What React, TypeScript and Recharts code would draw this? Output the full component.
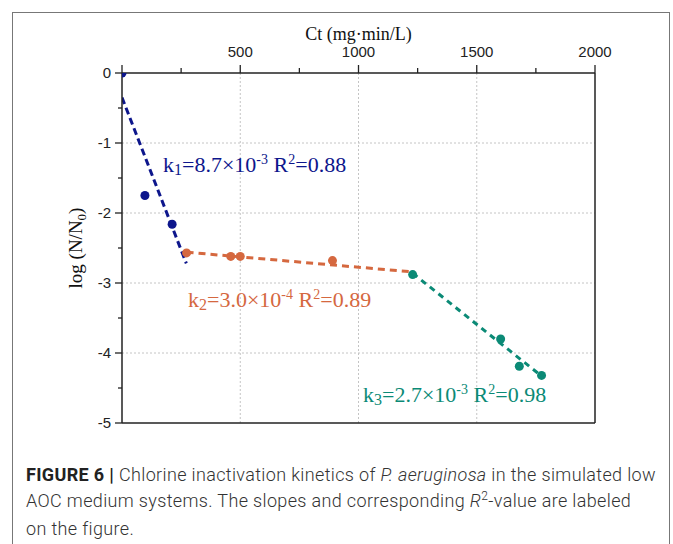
import {
  ComposedChart,
  Line,
  Scatter,
  XAxis,
  YAxis,
  ReferenceLine,
} from "recharts";

// Ct (mg·min/L) and log(N/N0)
const stage1Ct = [0, 97, 212];
const stage1Log = [0, -1.75, -2.16];
const stage2Ct = [273, 460, 500, 890];
const stage2Log = [-2.57, -2.62, -2.62, -2.68];
const stage3Ct = [1229, 1601, 1680, 1774];
const stage3Log = [-2.88, -3.8, -4.19, -4.32];

// fitted lines (end points)
const fit1Ct = [0, 272];
const fit1Log = [-0.35, -2.72];
const fit2Ct = [273, 1222];
const fit2Log = [-2.56, -2.84];
const fit3Ct = [1229, 1774];
const fit3Log = [-2.86, -4.33];

const xTicks = [0, 250, 500, 750, 1000, 1250, 1500, 1750, 2000];
const yTicks = [0, -0.5, -1, -1.5, -2, -2.5, -3, -3.5, -4, -4.5, -5];
const xGrid = [500, 1000, 1500];
const yGrid = [-1, -2, -3, -4];

const BLUE = "#0d168c";
const ORANGE = "#d5683f";
const TEAL = "#0b8a76";

const toPts = (xs: number[], ys: number[]) => xs.map((x, i) => ({ x, y: ys[i] }));

const tickFont = { fontFamily: "'Liberation Sans', Arial, sans-serif", fontSize: 15, fill: "#222" };
const serif = "'Liberation Serif', 'Times New Roman', serif";

const XTick = (props: any) => {
  const { x, y, payload } = props;
  const v = payload.value;
  const major = v % 500 === 0;
  return (
    <g>
      <line x1={x} x2={x} y1={y} y2={y - (major ? 8 : 5)} stroke="#222" strokeWidth={1.3} />
      {major && v !== 0 && (
        <text x={x} y={y - 16} textAnchor="middle" {...tickFont}>
          {v}
        </text>
      )}
    </g>
  );
};

const YTick = (props: any) => {
  const { x, y, payload } = props;
  const v = payload.value;
  const major = Number.isInteger(v);
  return (
    <g>
      <line x1={x} x2={x - (major ? 7 : 4)} y1={y} y2={y} stroke="#222" strokeWidth={1.3} />
      {major && (
        <text x={x - 11} y={y + 5} textAnchor="end" {...tickFont}>
          {v}
        </text>
      )}
    </g>
  );
};

const XTitle = (props: any) => {
  const vb = props.viewBox;
  return (
    <text x={vb.x + vb.width / 2} y={40} textAnchor="middle" fontFamily={serif} fontSize={18} fill="#111">
      Ct (mg·min/L)
    </text>
  );
};

const YTitle = (props: any) => {
  const vb = props.viewBox;
  const cy = vb.y + vb.height / 2;
  return (
    <text
      x={82}
      y={cy}
      transform={`rotate(-90 82 ${cy})`}
      textAnchor="middle"
      fontFamily={serif}
      fontSize={19}
      fill="#111"
    >
      log (N/N
      <tspan dy={4} fontSize={13}>0</tspan>
      <tspan dy={-4}>)</tspan>
    </text>
  );
};

const Fit = ({ x, y, k, exp, r2, sub, color }: any) => (
  <text x={x} y={y} fontFamily={serif} fontSize={22} fill={color}>
    k<tspan dy={3} fontSize={16}>{sub}</tspan>
    <tspan dy={-3}>={k}×10</tspan>
    <tspan dy={-8} fontSize={14}>{exp}</tspan>
    <tspan dy={8}> R</tspan>
    <tspan dy={-8} fontSize={14}>2</tspan>
    <tspan dy={8}>={r2}</tspan>
  </text>
);

export default function App() {
  return (
    <div style={{ position: "absolute", left: 0, top: 0, width: 673, height: 544, background: "#fff", overflow: "hidden" }}>
      <div
        style={{
          position: "absolute",
          left: 12,
          top: 12,
          width: 656,
          height: 560,
          border: "1.5px solid #777",
        }}
      />
      <div style={{ position: "absolute", left: 0, top: 0 }}>
        <ComposedChart width={673} height={430} margin={{ top: 0, right: 78, bottom: 7, left: 0 }}>
          {xGrid.map((v) => (
            <ReferenceLine key={"gx" + v} x={v} stroke="#c4c4c4" strokeDasharray="2 2" />
          ))}
          {yGrid.map((v) => (
            <ReferenceLine key={"gy" + v} y={v} stroke="#c4c4c4" strokeDasharray="2 2" />
          ))}
          <ReferenceLine x={2000} stroke="#222" strokeWidth={1.5} />
          <ReferenceLine y={-5} stroke="#222" strokeWidth={1.5} />
          <XAxis
            type="number"
            dataKey="x"
            orientation="top"
            domain={[0, 2000]}
            ticks={xTicks}
            interval={0}
            height={73}
            tickSize={0}
            tickMargin={0}
            tickLine={false}
            tick={<XTick />}
            axisLine={{ stroke: "#222", strokeWidth: 1.5 }}
            label={{ content: <XTitle /> }}
            allowDataOverflow
          />
          <YAxis
            type="number"
            dataKey="y"
            domain={[-5, 0]}
            ticks={yTicks}
            interval={0}
            width={122}
            tickSize={0}
            tickMargin={0}
            tickLine={false}
            tick={<YTick />}
            axisLine={{ stroke: "#222", strokeWidth: 1.5 }}
            label={{ content: <YTitle /> }}
            allowDataOverflow
          />
          <Line data={toPts(fit1Ct, fit1Log)} dataKey="y" stroke={BLUE} strokeWidth={3} strokeDasharray="7 4" dot={false} isAnimationActive={false} />
          <Line data={toPts(fit2Ct, fit2Log)} dataKey="y" stroke={ORANGE} strokeWidth={3} strokeDasharray="7 5" dot={false} isAnimationActive={false} />
          <Line data={toPts(fit3Ct, fit3Log)} dataKey="y" stroke={TEAL} strokeWidth={3} strokeDasharray="6 5" dot={false} isAnimationActive={false} />
          <Scatter data={toPts(stage1Ct, stage1Log)} fill={BLUE} shape={(p: any) => <circle cx={p.cx} cy={p.cy} r={4.5} fill={BLUE} />} isAnimationActive={false} />
          <Scatter data={toPts(stage2Ct, stage2Log)} fill={ORANGE} shape={(p: any) => <circle cx={p.cx} cy={p.cy} r={4.5} fill={ORANGE} />} isAnimationActive={false} />
          <Scatter data={toPts(stage3Ct, stage3Log)} fill={TEAL} shape={(p: any) => <circle cx={p.cx} cy={p.cy} r={4.5} fill={TEAL} />} isAnimationActive={false} />
        </ComposedChart>
      </div>
      <svg width={673} height={430} style={{ position: "absolute", left: 0, top: 0, pointerEvents: "none" }}>
        <Fit x={163} y={172} sub="1" k="8.7" exp="-3" r2="0.88" color={BLUE} />
        <Fit x={188} y={307} sub="2" k="3.0" exp="-4" r2="0.89" color={ORANGE} />
        <Fit x={363} y={402} sub="3" k="2.7" exp="-3" r2="0.98" color={TEAL} />
      </svg>
      <div
        style={{
          position: "absolute",
          left: 26,
          top: 462,
          width: 645,
          whiteSpace: "nowrap",
          fontFamily: "Roboto, 'Liberation Sans', sans-serif",
          fontWeight: 300,
          fontSize: 18,
          letterSpacing: 0.35,
          lineHeight: "25.5px",
          color: "#333",
        }}
      >
        <span style={{ fontWeight: 700, color: "#222" }}>FIGURE 6 |</span> Chlorine inactivation kinetics of{" "}
        <i>P. aeruginosa</i> in the simulated low
        <br />
        AOC medium systems. The slopes and corresponding <i>R</i>
        <span style={{ fontSize: 12, position: "relative", top: -7 }}>2</span>-value are labeled
        <br />
        on the figure.
      </div>
    </div>
  );
}
